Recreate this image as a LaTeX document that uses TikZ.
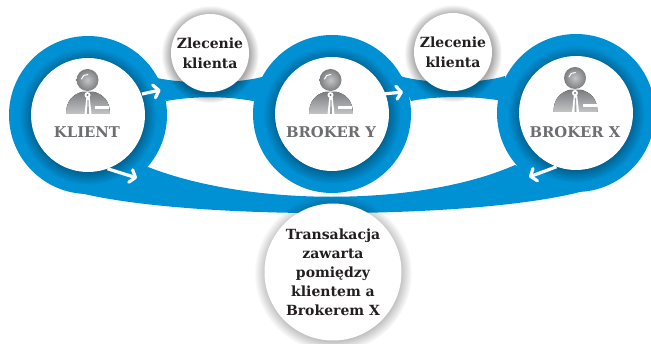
\documentclass[tikz,border=0pt]{standalone}
\usepackage{fontspec}
\setmainfont{DejaVu Serif}
\definecolor{BandColor}{RGB}{0,144,212}
\definecolor{LabelColor}{RGB}{109,110,113}
\definecolor{TextColor}{RGB}{35,31,32}
\definecolor{IconDark}{RGB}{125,126,129}
\definecolor{IconLight}{RGB}{195,196,198}
\usetikzlibrary{arrows.meta, shadows, fadings, calc}
\tikzset{
  ringdisc/.style={circle, fill=BandColor, minimum size=158pt, inner sep=0pt},
  softshadow/.style={general shadow={fill=black, fill opacity=0.33, path fading=circle with fuzzy edge 20 percent, shadow xshift=0pt, shadow yshift=-1pt, shadow scale=#1}},
  whitedisc/.style={circle, fill=white, inner sep=0pt, minimum size=114pt, softshadow=1.2},
  smalldisc/.style={circle, fill=white, inner sep=0pt, minimum size=78pt, softshadow=1.25, font=\fontsize{14}{20}\selectfont\bfseries, text=TextColor, align=center},
  bigdisc/.style={circle, fill=white, inner sep=0pt, minimum size=137pt, softshadow=1.15, font=\fontsize{14}{19}\selectfont\bfseries, text=TextColor, align=center},
  namelabel/.style={font=\fontsize{14.8}{16}\selectfont\bfseries, text=LabelColor},
  flowarrow/.style={draw=white, line width=3.2pt, -{Straight Barb[length=5pt,width=13pt,round]}},
  person/.pic={
    % body
    \fill[top color=IconDark, bottom color=IconLight] (-22,14) .. controls (-22,0) and (-14,-6) .. (-6,-8)
      -- (6,-8) .. controls (14,-6) and (22,0) .. (22,14) -- cycle;
    % head
    \shade[inner color=IconLight, outer color=IconDark] (-0.5,-20) circle (11);
    \draw[white, line width=1pt, line cap=round] (-6.5,-21) arc (190:280:5.5);
    % tie
    \fill[white] (-1.5,-4) -- (1.5,-4) -- (3.5,14) -- (-3.5,14) -- cycle;
    \fill[IconDark!70!white] (-0.5,0) -- (0.5,0) -- (1,14) -- (-1,14) -- cycle;
    \fill[white] (-0.5,-5) circle (3);
    \fill[IconDark] (-0.5,-5) circle (1.2);
    % badge
    \fill[white] (7,6.5) rectangle (21,9.5);
  }
}

\begin{document}
\begin{tikzpicture}[x=1pt, y=-1pt]
  \useasboundingbox (0,0) rectangle (651,344);

  % Bands
  \fill[BandColor] (150,76) -- (157,78) .. controls (185,84) and (235,84) .. (262,77)
    -- (262,102) -- (253,101) .. controls (225,96) and (195,96) .. (166,101) -- cycle;
  \fill[BandColor] (400,76) .. controls (425,84) and (480,84) .. (505,76)
    -- (505,101) -- (497,100) .. controls (470,96) and (435,96) .. (411,101) -- cycle;
  \fill[BandColor] (148,167) .. controls (250,207) and (420,207) .. (515,165)
    -- (580,192) .. controls (470,220) and (190,220) .. (80,193) -- cycle;

  % Rings
  \node[ringdisc] (ringklient) at (88,115) {};
  \node[ringdisc] (ringy) at (332,114) {};
  \node[ringdisc] (ringx) at (576,113) {};

  % Discs
  \node[whitedisc] (klient) at (88,115) {};
  \node[whitedisc] (brokery) at (332,114) {};
  \node[whitedisc] (brokerx) at (576,113) {};
  \node[smalldisc] (order1) at (210,53) {Zlecenie\\klienta};
  \node[smalldisc] (order2) at (453,52) {Zlecenie\\klienta};
  \node[bigdisc] (deal) at (333,272) {Transakacja\\zawarta\\pomiędzy\\klientem a\\Brokerem X};

  % Icons
  \pic at (88,100) {person};
  \pic at (331,100) {person};
  \pic at (575.5,98) {person};

  % Names
  \node[namelabel] (klientname) at (87,132) {KLIENT};
  \node[namelabel] (brokeryname) at (331,132) {BROKER Y};
  \node[namelabel] (brokerxname) at (575,132) {BROKER X};

  % Arrows
  \coordinate (tip1) at (160.5,90);
  \coordinate (tip2) at (403,92);
  \coordinate (tip3) at (137,178);
  \coordinate (tip4) at (529,177);
  \draw[flowarrow] (klient) ++(54,-21) -- (tip1);
  \draw[flowarrow] (brokery) ++(51,-20) -- (tip2);
  \draw[flowarrow] (klient.-70) -- (tip3);
  \draw[flowarrow] (brokerx.-110) -- (tip4);
\end{tikzpicture}
\end{document}
